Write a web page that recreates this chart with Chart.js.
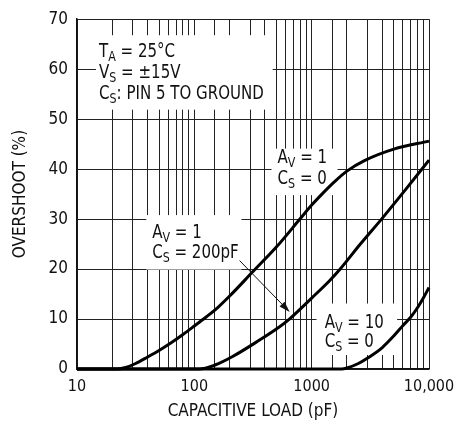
<!DOCTYPE html>
<html>
<head>
<meta charset="utf-8">
<script src="https://cdn.jsdelivr.net/npm/chart.js@4"></script>
<style>
  body { margin: 0; background: #fff; }
  #wrap { width: 454px; height: 428px; }
</style>
</head>
<body>
<div id="wrap"><canvas id="overshootChart"></canvas></div>
<script>
// capacitive load (pF) and overshoot (%)
var loadA = [10, 22, 26, 31.6, 40, 50, 63, 80, 100, 126, 160, 200, 316, 500, 794, 1000, 1259, 1585, 1995, 2818, 5012, 10000];
var overA = [0, 0, 0.3, 1.1, 2.4, 3.7, 5.2, 6.9, 8.6, 10.4, 12.4, 14.6, 19.5, 24.4, 30.0, 32.8, 35.3, 37.6, 39.6, 41.7, 44, 45.6];

var loadB = [10, 110, 150, 212, 360, 500, 646, 1000, 1400, 1750, 2600, 3940, 6460, 10000];
var overB = [0, 0, 0.8, 2.5, 5.8, 8.0, 10, 14.2, 17.5, 20, 25, 30, 36.2, 41.8];

var loadC = [10, 1800, 2000, 2500, 3000, 4000, 5000, 6000, 7000, 8000, 9000, 10000];
var overC = [0, 0, 0.2, 1.1, 2.2, 4.3, 6.6, 8.7, 10.4, 12.3, 14.3, 16.3];

var xDecades = [10, 100, 1000, 10000];
var xTickLabels = ['10', '100', '1000', '10,000'];

var fontFamily = "'Liberation Sans Narrow', 'DejaVu Sans Condensed', 'Arial Narrow', sans-serif";

function pts(xs, ys) {
  return xs.map(function(x, i){ return {x: x, y: ys[i]}; });
}

// white boxes behind the labels, in data units [x1, x2, y1, y2]
var boxes = [
  [14.5, 465, 51.9, 66.8],
  [455, 1660, 34.8, 44.1],
  [39, 252, 19.9, 30.8],
  [1100, 5350, 2.8, 13.1]
];

// text lines, {A} means subscript
var notes = [
  {x: 15.4, y: 62.4, text: 'T{A} = 25°C'},
  {x: 15.4, y: 58.2, text: 'V{S} = ±15V'},
  {x: 15.4, y: 54.1, text: 'C{S}: PIN 5 TO GROUND'},
  {x: 512, y: 41.2, text: 'A{V} = 1'},
  {x: 512, y: 37.0, text: 'C{S} = 0'},
  {x: 43.7, y: 26.2, text: 'A{V} = 1'},
  {x: 43.7, y: 22.2, text: 'C{S} = 200pF'},
  {x: 1290, y: 8.3, text: 'A{V} = 10'},
  {x: 1290, y: 4.4, text: 'C{S} = 0'}
];

var arrowFrom = {x: 243, y: 21.7};
var arrowTo = {x: 650, y: 11.4};

var squeeze = 0.88;

function drawRich(ctx, text, x, y, size) {
  ctx.save();
  ctx.translate(x, y);
  ctx.scale(squeeze, 1);
  var cx = 0;
  var parts = text.split(/(\{[^}]*\})/);
  parts.forEach(function(p){
    if (!p) return;
    if (p.charAt(0) == '{') {
      var s = p.slice(1, -1);
      ctx.font = Math.round(size * 0.75) + 'px ' + fontFamily;
      ctx.fillText(s, cx, size * 0.22);
      cx += ctx.measureText(s).width;
    } else {
      ctx.font = size + 'px ' + fontFamily;
      ctx.fillText(p, cx, 0);
      cx += ctx.measureText(p).width;
    }
  });
  ctx.restore();
}

var labelPlugin = {
  id: 'labels',
  beforeDatasetsDraw: function(chart) {
    var ctx = chart.ctx, xs = chart.scales.x, ys = chart.scales.y;
    ctx.save();
    ctx.fillStyle = '#fff';
    boxes.forEach(function(b){
      var x1 = xs.getPixelForValue(b[0]), x2 = xs.getPixelForValue(b[1]);
      var y1 = ys.getPixelForValue(b[3]), y2 = ys.getPixelForValue(b[2]);
      ctx.fillRect(x1, y1, x2 - x1, y2 - y1);
    });
    ctx.fillStyle = '#111';
    ctx.textBaseline = 'alphabetic';
    ctx.textAlign = 'left';
    notes.forEach(function(n){
      drawRich(ctx, n.text, xs.getPixelForValue(n.x), ys.getPixelForValue(n.y), 19);
    });
    ctx.restore();
  },
  afterDatasetsDraw: function(chart) {
    var ctx = chart.ctx, xs = chart.scales.x, ys = chart.scales.y;
    var x1 = xs.getPixelForValue(arrowFrom.x), y1 = ys.getPixelForValue(arrowFrom.y);
    var x2 = xs.getPixelForValue(arrowTo.x), y2 = ys.getPixelForValue(arrowTo.y);
    var ang = Math.atan2(y2 - y1, x2 - x1);
    ctx.save();
    ctx.strokeStyle = '#111';
    ctx.fillStyle = '#111';
    ctx.lineWidth = 1;
    ctx.beginPath();
    ctx.moveTo(x1, y1);
    ctx.lineTo(x2 - 6 * Math.cos(ang), y2 - 6 * Math.sin(ang));
    ctx.stroke();
    ctx.beginPath();
    ctx.moveTo(x2, y2);
    ctx.lineTo(x2 - 11 * Math.cos(ang) + 3.5 * Math.sin(ang), y2 - 11 * Math.sin(ang) - 3.5 * Math.cos(ang));
    ctx.lineTo(x2 - 11 * Math.cos(ang) - 3.5 * Math.sin(ang), y2 - 11 * Math.sin(ang) + 3.5 * Math.cos(ang));
    ctx.closePath();
    ctx.fill();
    ctx.restore();
  }
};

function curve(xs, ys) {
  return {
    data: pts(xs, ys),
    borderColor: '#000',
    borderWidth: 3,
    pointRadius: 0,
    fill: false,
    cubicInterpolationMode: 'monotone',
    clip: 4
  };
}

var ctx = document.getElementById('overshootChart').getContext('2d');
var myChart = new Chart(ctx, {
  type: 'line',
  data: {
    datasets: [curve(loadA, overA), curve(loadB, overB), curve(loadC, overC)]
  },
  options: {
    responsive: true,
    maintainAspectRatio: false,
    animation: false,
    layout: { padding: { top: 17, right: 25, left: 0, bottom: 0 } },
    plugins: { legend: { display: false }, tooltip: { enabled: false } },
    scales: {
      x: {
        type: 'logarithmic',
        min: 10,
        max: 10000,
        afterFit: function(scale){
          scale.height = 59;
          scale.paddingLeft = 0;
          scale.paddingRight = 0;
        },
        grid: { color: '#222', lineWidth: 1, drawTicks: false },
        border: { color: '#111', width: 1.5 },
        ticks: {
          autoSkip: false,
          maxRotation: 0,
          padding: 8,
          color: '#111',
          font: { family: fontFamily, size: 16 },
          callback: function(v){
            var i = xDecades.indexOf(v);
            return i >= 0 ? xTickLabels[i] : '';
          }
        },
        title: {
          display: true,
          text: 'CAPACITIVE LOAD (pF)',
          color: '#111',
          font: { family: fontFamily, size: 17 },
          padding: { top: 0, bottom: 6 }
        }
      },
      y: {
        min: 0,
        max: 70,
        afterFit: function(scale){ scale.width = 77; },
        grid: { color: '#222', lineWidth: 1, drawTicks: false },
        border: { color: '#111', width: 1.5 },
        ticks: {
          stepSize: 10,
          padding: 9,
          color: '#111',
          font: { family: fontFamily, size: 17 }
        },
        title: {
          display: true,
          text: 'OVERSHOOT (%)',
          color: '#111',
          font: { family: fontFamily, size: 17 },
          padding: { top: 10, bottom: 0 }
        }
      }
    }
  },
  plugins: [labelPlugin]
});
</script>
</body>
</html>
